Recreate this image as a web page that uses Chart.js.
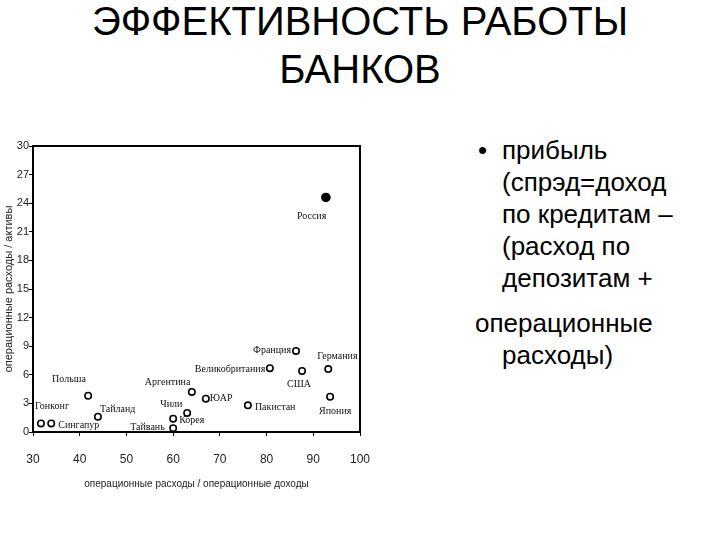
<!DOCTYPE html>
<html>
<head>
<meta charset="utf-8">
<script src="https://cdn.jsdelivr.net/npm/chart.js@4"></script>
<style>
	body { margin: 0; width: 720px; height: 540px; background: #fff; position: relative; overflow: hidden; font-family: "Liberation Sans", Arial, sans-serif; }
	.title { position: absolute; left: 0; width: 720px; text-align: center; font-size: 40px; line-height: 48px; color: #000; }
	.txt { position: absolute; font-size: 26px; line-height: 32px; color: #000; white-space: nowrap; }
	#chartBox { position: absolute; left: 0; top: 130px; width: 420px; height: 370px; }
</style>
</head>
<body>
<div class="title" style="top:-3px">ЭФФЕКТИВНОСТЬ РАБОТЫ</div>
<div class="title" style="top:45px">БАНКОВ</div>

<div class="txt" style="left:478px; top:134px">•</div>
<div class="txt" style="left:502px; top:134px">прибыль</div>
<div class="txt" style="left:502px; top:166px">(спрэд=доход</div>
<div class="txt" style="left:502px; top:198px">по кредитам –</div>
<div class="txt" style="left:502px; top:230px">(расход по</div>
<div class="txt" style="left:502px; top:262px">депозитам +</div>
<div class="txt" style="left:475px; top:307px">операционные</div>
<div class="txt" style="left:502px; top:339px">расходы)</div>

<div id="chartBox"><canvas id="chart"></canvas></div>

<script>
// Countries and values
const countries = ["Гонконг", "Сингапур", "Польша", "Тайланд", "Тайвань", "Корея", "Чили", "Аргентина",
	"ЮАР", "Пакистан", "Великобритания", "Франция", "США", "Германия", "Япония", "Россия"];
const costIncome = [31.7, 33.9, 41.8, 43.9, 60.0, 60.0, 63.0, 64.0, 67.0, 76.0, 80.7, 86.3, 87.6, 93.2, 93.6, 92.7];
const costAssets = [0.9, 0.9, 3.8, 1.6, 0.4, 1.4, 2.0, 4.2, 3.5, 2.8, 6.7, 8.5, 6.4, 6.6, 3.7, 24.6];

const xTicks = [30, 40, 50, 60, 70, 80, 90, 100];
const yTicks = [0, 3, 6, 9, 12, 15, 18, 21, 24, 27, 30];

// where each label sits relative to its point (pixels)
const labelOffset = {
	"Гонконг": [-6, -17], "Сингапур": [7, 2], "Польша": [-36, -16], "Тайланд": [2, -7],
	"Тайвань": [-43, -1], "Корея": [6, 2], "Чили": [-27, -9], "Аргентина": [-47, -10],
	"ЮАР": [4, 0], "Пакистан": [7, 2], "Великобритания": [-75, 1], "Франция": [-43, -1],
	"США": [-15, 13], "Германия": [-11, -13], "Япония": [-11, 15], "Россия": [-29, 19]
};

const points = countries.map((c, i) => ({ x: costIncome[i], y: costAssets[i] }));

const pointLabels = {
	id: "pointLabels",
	afterDatasetsDraw(chart) {
		const ctx = chart.ctx;
		const xs = chart.scales.x, ys = chart.scales.y;
		ctx.save();
		ctx.font = "10px 'Liberation Serif', 'DejaVu Serif', serif";
		ctx.fillStyle = "#111";
		ctx.textBaseline = "middle";
		ctx.textAlign = "left";
		countries.forEach((c, i) => {
			const off = labelOffset[c];
			ctx.fillText(c, xs.getPixelForValue(costIncome[i]) + off[0], ys.getPixelForValue(costAssets[i]) + off[1]);
		});
		// close the frame on top and right
		const a = chart.chartArea;
		ctx.strokeStyle = "#000";
		ctx.lineWidth = 2;
		ctx.beginPath();
		ctx.moveTo(a.left, a.top);
		ctx.lineTo(a.right, a.top);
		ctx.lineTo(a.right, a.bottom);
		ctx.stroke();
		ctx.restore();
	}
};

new Chart(document.getElementById("chart"), {
	type: "scatter",
	data: {
		datasets: [{
			data: points,
			pointRadius: ctx => countries[ctx.dataIndex] === "Россия" ? 4 : 3.2,
			pointBackgroundColor: ctx => countries[ctx.dataIndex] === "Россия" ? "#000" : "#fff",
			pointBorderColor: "#000",
			pointBorderWidth: 1.6
		}]
	},
	options: {
		responsive: true,
		maintainAspectRatio: false,
		animation: false,
		layout: { padding: { top: 16, right: 60, bottom: 6, left: 0 } },
		plugins: { legend: { display: false }, tooltip: { enabled: false } },
		scales: {
			x: {
				type: "linear", min: 30, max: 100,
				afterBuildTicks: s => { s.ticks = xTicks.map(v => ({ value: v })); },
				afterFit: s => { s.height = 62; },
				grid: { drawOnChartArea: false, drawTicks: true, tickLength: 4, color: "#000" },
				border: { display: true, color: "#000", width: 2 },
				ticks: { color: "#222", padding: 16, maxRotation: 0, font: { family: "'Liberation Sans Narrow', 'Liberation Sans', sans-serif", size: 12 } },
				title: { display: true, text: "операционные расходы / операционные доходы", color: "#222",
					padding: { top: 0, bottom: 4 }, font: { family: "'Liberation Sans', Arial, sans-serif", size: 10 } }
			},
			y: {
				type: "linear", min: 0, max: 30,
				afterBuildTicks: s => { s.ticks = yTicks.map(v => ({ value: v })); },
				afterFit: s => { s.width = 33; },
				grid: { drawOnChartArea: false, drawTicks: true, tickLength: 4, color: "#000" },
				border: { display: true, color: "#000", width: 2 },
				ticks: { color: "#222", padding: 0, font: { family: "'Liberation Sans Narrow', 'Liberation Sans', sans-serif", size: 11 } },
				title: { display: true, text: "операционные расходы / активы", color: "#222",
					padding: { top: 2, bottom: 0 }, font: { family: "'Liberation Sans', Arial, sans-serif", size: 11 } }
			}
		}
	},
	plugins: [pointLabels]
});
</script>
</body>
</html>
